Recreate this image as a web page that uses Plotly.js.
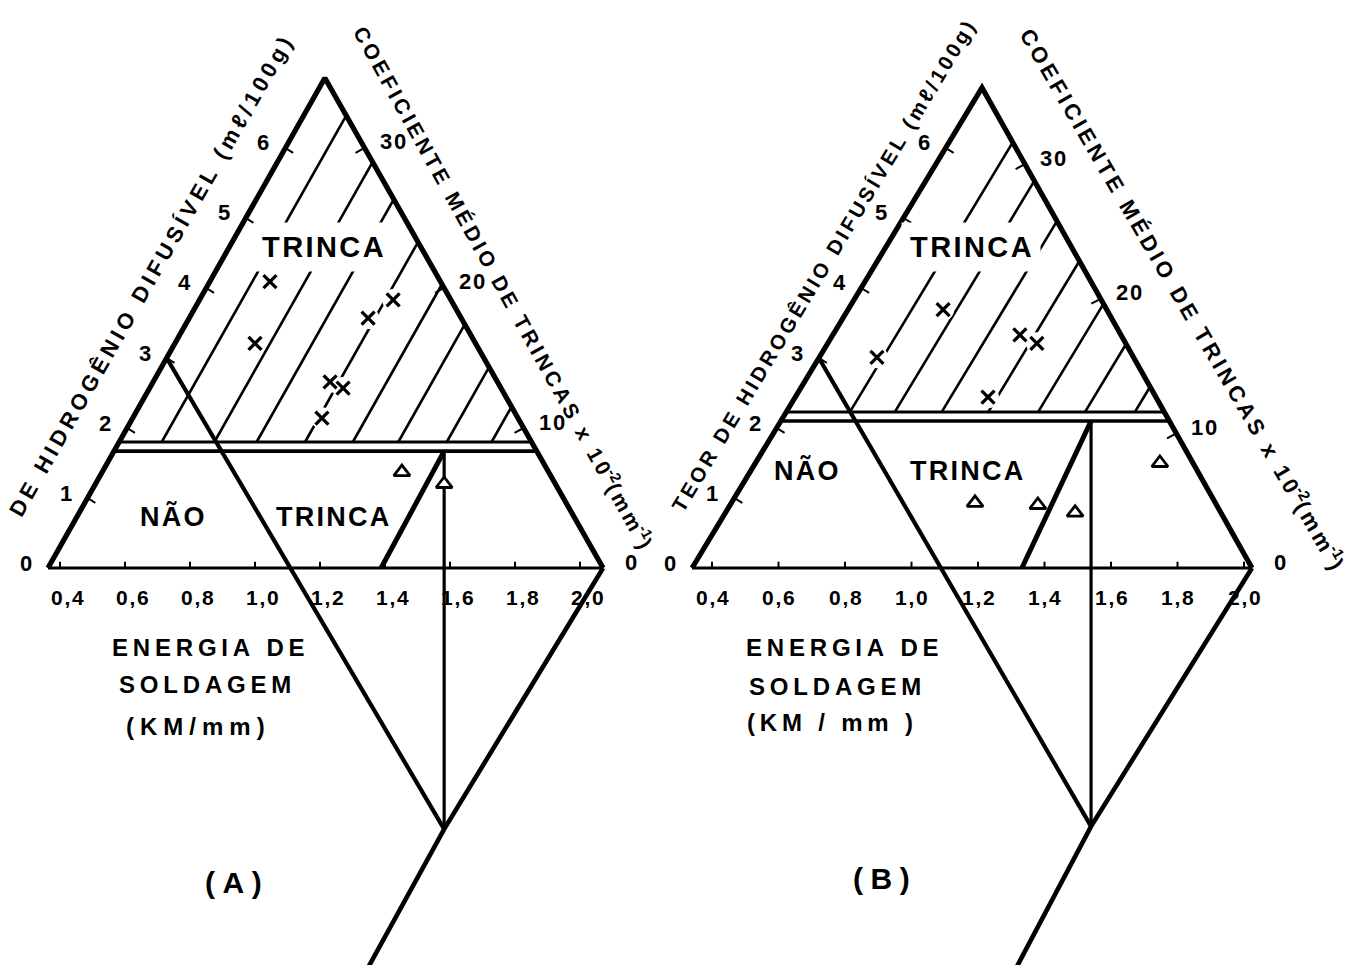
<!DOCTYPE html>
<html>
<head>
<meta charset="utf-8">
<script src="https://cdn.plot.ly/plotly-3.0.1.min.js"></script>
<style>
  html, body { margin: 0; padding: 0; background: #ffffff; }
  #chart { width: 1356px; height: 965px; }
</style>
</head>
<body>
<div id="chart"></div>
<script>
// ---- scales shared by both nomograms ----
const energyTicks = [0.4, 0.6, 0.8, 1.0, 1.2, 1.4, 1.6, 1.8, 2.0];
const energyTickLabels = ['0,4', '0,6', '0,8', '1,0', '1,2', '1,4', '1,6', '1,8', '2,0'];
const hydrogenTicks = [0, 1, 2, 3, 4, 5, 6];
const crackTicks = [0, 10, 20, 30];

// ---- nomogram (A) : energy (x) / diffusible hydrogen (y) ----
const frameA_E = [0.363, 1.215, 2.071];      // left corner, apex, right corner
const apexA_H = 7.0;
const crackRatioA = 5.0;                     // crack-coefficient units per hydrogen unit
const limitA_H = [1.80, 1.67];               // crack / no-crack double line
const hatchA_E = [0.713, 0.875, 1.005, 1.154, 1.301, 1.441, 1.590, 1.728];
const guideStartA_H = 3;
const nodeA = [1.582, -3.73];
const tailA = [1.337, -5.80];
const rampA_E = 1.388;
const crackA_E = [1.046, 1.000, 1.206, 1.231, 1.271, 1.348, 1.425];
const crackA_H = [4.09, 3.21, 2.14, 2.66, 2.57, 3.57, 3.83];
const noCrackA_E = [1.452, 1.582];
const noCrackA_H = [1.37, 1.20];

// ---- nomogram (B) ----
const frameB_E = [0.340, 1.212, 2.024];
const apexB_H = 6.86;
const crackRatioB = 5.2;
const limitB_H = [2.23, 2.10];
const hatchB_E = [0.815, 0.950, 1.091, 1.231, 1.381, 1.522, 1.672];
const guideStartB_H = 3;
const nodeB = [1.540, -3.69];
const tailB = [1.304, -5.81];
const rampB_E = 1.332;
const crackB_E = [0.896, 1.095, 1.230, 1.326, 1.377];
const crackB_H = [3.01, 3.69, 2.44, 3.33, 3.21];
const noCrackB_E = [1.191, 1.380, 1.492, 1.747];
const noCrackB_H = [0.93, 0.90, 0.79, 1.50];

const INK = '#000000';
const FONT = 'Liberation Sans, Arial, sans-serif';
const HAIR = '\u200A', THIN = '\u2009', FOUR = '\u2005', SIX = '\u2006';
function spaced(s, sp) { return Array.from(s).join(sp); }

function leftSideE(p, h) { return p.frame[0] + (p.frame[1] - p.frame[0]) * h / p.apexH; }
function rightSideE(p, h) { return p.frame[2] + (p.frame[1] - p.frame[2]) * h / p.apexH; }

// hatch line parallel to the left side, from the limit line up to the right side
function hatchEnd(p, e0, h0) {
  const dE = p.frame[1] - p.frame[0], dH = p.apexH;
  const k = (p.frame[1] - p.frame[2]) / p.apexH;
  const t = (p.frame[2] + k * h0 - e0) / (dE - k * dH);
  return [e0 + t * dE, h0 + t * dH];
}

function line(xs, ys, w, xa, ya) {
  return { type: 'scatter', mode: 'lines', x: xs, y: ys, xaxis: xa, yaxis: ya,
           line: { color: INK, width: w }, hoverinfo: 'skip', showlegend: false };
}

function panelTraces(p, xa, ya) {
  const tr = [];
  // hatching of the crack region
  const hx = [], hy = [];
  p.hatch.forEach(e0 => {
    const end = hatchEnd(p, e0, p.limit[0]);
    hx.push(e0, end[0], null); hy.push(p.limit[0], end[1], null);
  });
  tr.push(line(hx, hy, 2.6, xa, ya));
  // white halos that break the hatching around the crack symbols
  tr.push({ type: 'scatter', mode: 'markers', x: p.crackE, y: p.crackH, xaxis: xa, yaxis: ya,
            marker: { symbol: 'circle', size: 22, color: '#ffffff' }, hoverinfo: 'skip', showlegend: false });
  // triangle frame
  tr.push(line([p.frame[0], p.frame[1], p.frame[2]], [0, p.apexH, 0], 5.2, xa, ya));
  tr.push(line([p.frame[0], p.frame[2]], [0, 0], 3.2, xa, ya));
  // double limit line
  tr.push(line([leftSideE(p, p.limit[0]), rightSideE(p, p.limit[0])], [p.limit[0], p.limit[0]], 3, xa, ya));
  tr.push(line([leftSideE(p, p.limit[1]), rightSideE(p, p.limit[1])], [p.limit[1], p.limit[1]], 3.6, xa, ya));
  // scale ticks
  const tx = [], ty = [];
  energyTicks.forEach(e => { tx.push(e, e, null); ty.push(0, 0.09, null); });
  hydrogenTicks.slice(1).forEach(h => {
    const e = leftSideE(p, h); tx.push(e, e + 0.024, null); ty.push(h, h - 0.07, null);
  });
  crackTicks.slice(1).forEach(c => {
    const h = c / p.ratio, e = rightSideE(p, h); tx.push(e, e - 0.028, null); ty.push(h, h - 0.07, null);
  });
  tr.push(line(tx, ty, 2, xa, ya));
  // construction lines of the diagram
  tr.push(line([leftSideE(p, p.guideH), p.node[0]], [p.guideH, p.node[1]], 4.2, xa, ya));
  tr.push(line([p.frame[2], p.node[0], p.tail[0]], [0, p.node[1], p.tail[1]], 4.6, xa, ya));
  tr.push(line([p.node[0], p.node[0]], [p.node[1], p.limit[1]], 3.2, xa, ya));
  tr.push(line([p.ramp, p.node[0]], [0, p.limit[1]], 5, xa, ya));
  // observations: x = crack, triangle = no crack
  tr.push({ type: 'scatter', mode: 'markers', x: p.crackE, y: p.crackH, xaxis: xa, yaxis: ya,
            marker: { symbol: 'x-thin', size: 13, line: { color: INK, width: 3.3 } },
            hoverinfo: 'skip', showlegend: false });
  tr.push({ type: 'scatter', mode: 'markers', x: p.noCrackE, y: p.noCrackH, xaxis: xa, yaxis: ya,
            marker: { symbol: 'triangle-up', size: 14, color: '#ffffff', line: { color: INK, width: 2.8 } },
            hoverinfo: 'skip', showlegend: false });
  return tr;
}

function ann(xa, ya, x, y, text, size, extra) {
  return Object.assign({ xref: xa, yref: ya, x: x, y: y, text: text, showarrow: false,
    xanchor: 'center', yanchor: 'middle',
    font: { family: FONT, size: size, color: INK, weight: 700 } }, extra || {});
}

function panelAnnotations(p, xa, ya) {
  const out = [];
  hydrogenTicks.forEach(h => out.push(ann(xa, ya, leftSideE(p, h), h, String(h), 22, { xshift: -22, yshift: 5 })));
  crackTicks.forEach(c => {
    const h = c / p.ratio;
    out.push(ann(xa, ya, rightSideE(p, h), h, spaced(String(c), HAIR), 22, { xshift: 28, yshift: 6 }));
  });
  energyTicks.forEach((e, i) => out.push(ann(xa, ya, e, 0, spaced(energyTickLabels[i], HAIR), 21,
                                            { xshift: p.labelShift, yshift: -29 })));
  return out;
}

const pA = { frame: frameA_E, apexH: apexA_H, ratio: crackRatioA, limit: limitA_H, hatch: hatchA_E,
             guideH: guideStartA_H, node: nodeA, tail: tailA, ramp: rampA_E,
             crackE: crackA_E, crackH: crackA_H, noCrackE: noCrackA_E, noCrackH: noCrackA_H, labelShift: 7 };
const pB = { frame: frameB_E, apexH: apexB_H, ratio: crackRatioB, limit: limitB_H, hatch: hatchB_E,
             guideH: guideStartB_H, node: nodeB, tail: tailB, ramp: rampB_E,
             crackE: crackB_E, crackH: crackB_H, noCrackE: noCrackB_E, noCrackH: noCrackB_H, labelShift: 0 };

const traces = panelTraces(pA, 'x', 'y').concat(panelTraces(pB, 'x2', 'y2'));

function crackTitle(sp) {
  return spaced('COEFICIENTE MÉDIO DE TRINCAS x 10', sp) + '<sup>-2</sup>' +
         spaced('(mm', sp) + '<sup>-1</sup>)';
}

const annotations = panelAnnotations(pA, 'x', 'y').concat(panelAnnotations(pB, 'x2', 'y2'), [
  // panel A texts
  ann('x', 'y', 0.680, 4.16, spaced('DE HIDROGÊNIO DIFUSÍVEL (mℓ/100g)', THIN), 22, { textangle: -60.3 }),
  ann('x', 'y', 1.766, 4.01, crackTitle(SIX), 21, { textangle: 61 }),
  ann('x', 'y', 1.209, 4.59, spaced('TRINCA', HAIR), 29, { bgcolor: '#ffffff', borderpad: 8 }),
  ann('x', 'y', 0.745, 0.73, spaced('NÃO', HAIR), 27),
  ann('x', 'y', 1.237, 0.73, spaced('TRINCA', HAIR), 27),
  ann('x', 'y', 0.858, -1.13, spaced('ENERGIA DE', THIN), 24),
  ann('x', 'y', 0.846, -1.66, spaced('SOLDAGEM', THIN), 24),
  ann('x', 'y', 0.818, -2.27, spaced('(KM/mm)', FOUR), 24),
  ann('x', 'y', 0.935, -4.49, spaced('(A)', FOUR), 30),
  // panel B texts
  ann('x2', 'y2', 0.733, 4.31, spaced('TEOR DE HIDROGÊNIO DIFUSÍVEL (mℓ/100g)', SIX), 20.5, { textangle: -59 }),
  ann('x2', 'y2', 1.817, 3.86, crackTitle(SIX), 22, { textangle: 59.8 }),
  ann('x2', 'y2', 1.179, 4.59, spaced('TRINCA', HAIR), 29, { bgcolor: '#ffffff', borderpad: 8 }),
  ann('x2', 'y2', 0.683, 1.39, spaced('NÃO', HAIR), 27),
  ann('x2', 'y2', 1.164, 1.39, spaced('TRINCA', HAIR), 27),
  ann('x2', 'y2', 0.791, -1.13, spaced('ENERGIA DE', THIN), 24),
  ann('x2', 'y2', 0.770, -1.69, spaced('SOLDAGEM', THIN), 24),
  ann('x2', 'y2', 0.755, -2.20, spaced('(KM / mm )', THIN), 24),
  ann('x2', 'y2', 0.911, -4.44, spaced('(B)', FOUR), 30)
]);

const hidden = { visible: false, showgrid: false, zeroline: false, fixedrange: true };
const layout = {
  width: 1356, height: 965,
  margin: { l: 0, r: 0, t: 0, b: 0, pad: 0 },
  paper_bgcolor: '#ffffff', plot_bgcolor: '#ffffff',
  showlegend: false,
  xaxis: Object.assign({ domain: [0, 0.5], range: [0.2154, 2.3015], anchor: 'y' }, hidden),
  yaxis: Object.assign({ domain: [0, 1], range: [-5.671, 8.114], anchor: 'x' }, hidden),
  xaxis2: Object.assign({ domain: [0.5, 1], range: [0.2977, 2.3368], anchor: 'y2' }, hidden),
  yaxis2: Object.assign({ domain: [0, 1], range: [-5.671, 8.114], anchor: 'x2' }, hidden),
  annotations: annotations
};

Plotly.newPlot('chart', traces, layout, { displayModeBar: false, staticPlot: true });
</script>
</body>
</html>
